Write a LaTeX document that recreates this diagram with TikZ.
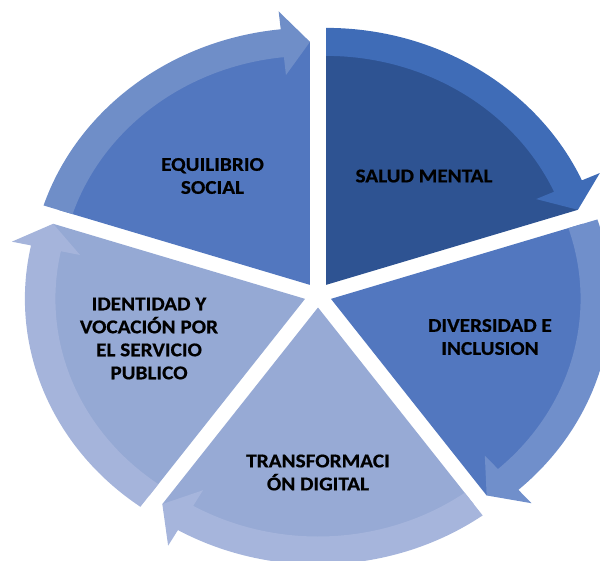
\documentclass[tikz,border=0pt]{standalone}
\usepackage{fontspec}
\setmainfont{Carlito}[FakeStretch=1.09, BoldFeatures={FakeBold=0.6}]

% segment fills and the lighter circular arrows laid over their rims
\definecolor{saludFill}{RGB}{46,83,146}
\definecolor{saludArrow}{RGB}{63,108,183}
\definecolor{divFill}{RGB}{82,119,191}
\definecolor{divArrow}{RGB}{112,143,203}
\definecolor{transFill}{RGB}{151,170,213}
\definecolor{transArrow}{RGB}{166,181,220}
\definecolor{identFill}{RGB}{149,169,212}
\definecolor{identArrow}{RGB}{165,180,219}
\definecolor{equiFill}{RGB}{82,119,191}
\definecolor{equiArrow}{RGB}{111,142,200}

% one exploded pie segment (start angle #1, 72 degrees clockwise)
% with a curved arrow running along its outer rim
\newcommand{\cycleseg}[3]{%
  \pgfmathsetmacro\segend{#1-72}%
  \pgfmathsetmacro\segmid{#1-36}%
  \pgfmathsetmacro\headbase{#1-66}%
  \begin{scope}[shift={(\segmid:12.5)}]
    \fill[#2] (0,0) -- (#1:243)
      arc[start angle=#1, end angle=\segend, radius=243] -- cycle;
    \fill[#3] (#1:229) -- (#1:257)
      arc[start angle=#1, end angle=\headbase, radius=257]
      -- (\headbase:275) -- (\segend:243) -- (\headbase:211)
      -- (\headbase:229)
      arc[start angle=\headbase, end angle=#1, radius=229] -- cycle;
  \end{scope}}

\tikzset{
  lbl/.style={font=\bfseries\fontsize{19.5}{23}\selectfont,
    align=center, text=black, inner sep=0pt}
}

\begin{document}
\begin{tikzpicture}[x=1pt, y=1pt]
  \useasboundingbox (-318,-265) rectangle (282,295);
  \clip (-318,-265) rectangle (282,295);
  \begin{scope}[xscale=1.09]
    \cycleseg{90}{saludFill}{saludArrow}
    \cycleseg{18}{divFill}{divArrow}
    \cycleseg{-54}{transFill}{transArrow}
    \cycleseg{-126}{identFill}{identArrow}
    \cycleseg{162}{equiFill}{equiArrow}
  \end{scope}

  \node[lbl] (salud) at (106,119) {SALUD MENTAL};
  \node[lbl] (diversidad) at (172,-42) {DIVERSIDAD E\\INCLUSION};
  \node[lbl] (transformacion) at (0,-177.5) {TRANSFORMACI\\ÓN DIGITAL};
  \node[lbl] (identidad) at (-169,-43.5) {IDENTIDAD Y\\VOCACIÓN POR\\EL SERVICIO\\PUBLICO};
  \node[lbl] (equilibrio) at (-105.5,119) {EQUILIBRIO\\SOCIAL};
\end{tikzpicture}
\end{document}
